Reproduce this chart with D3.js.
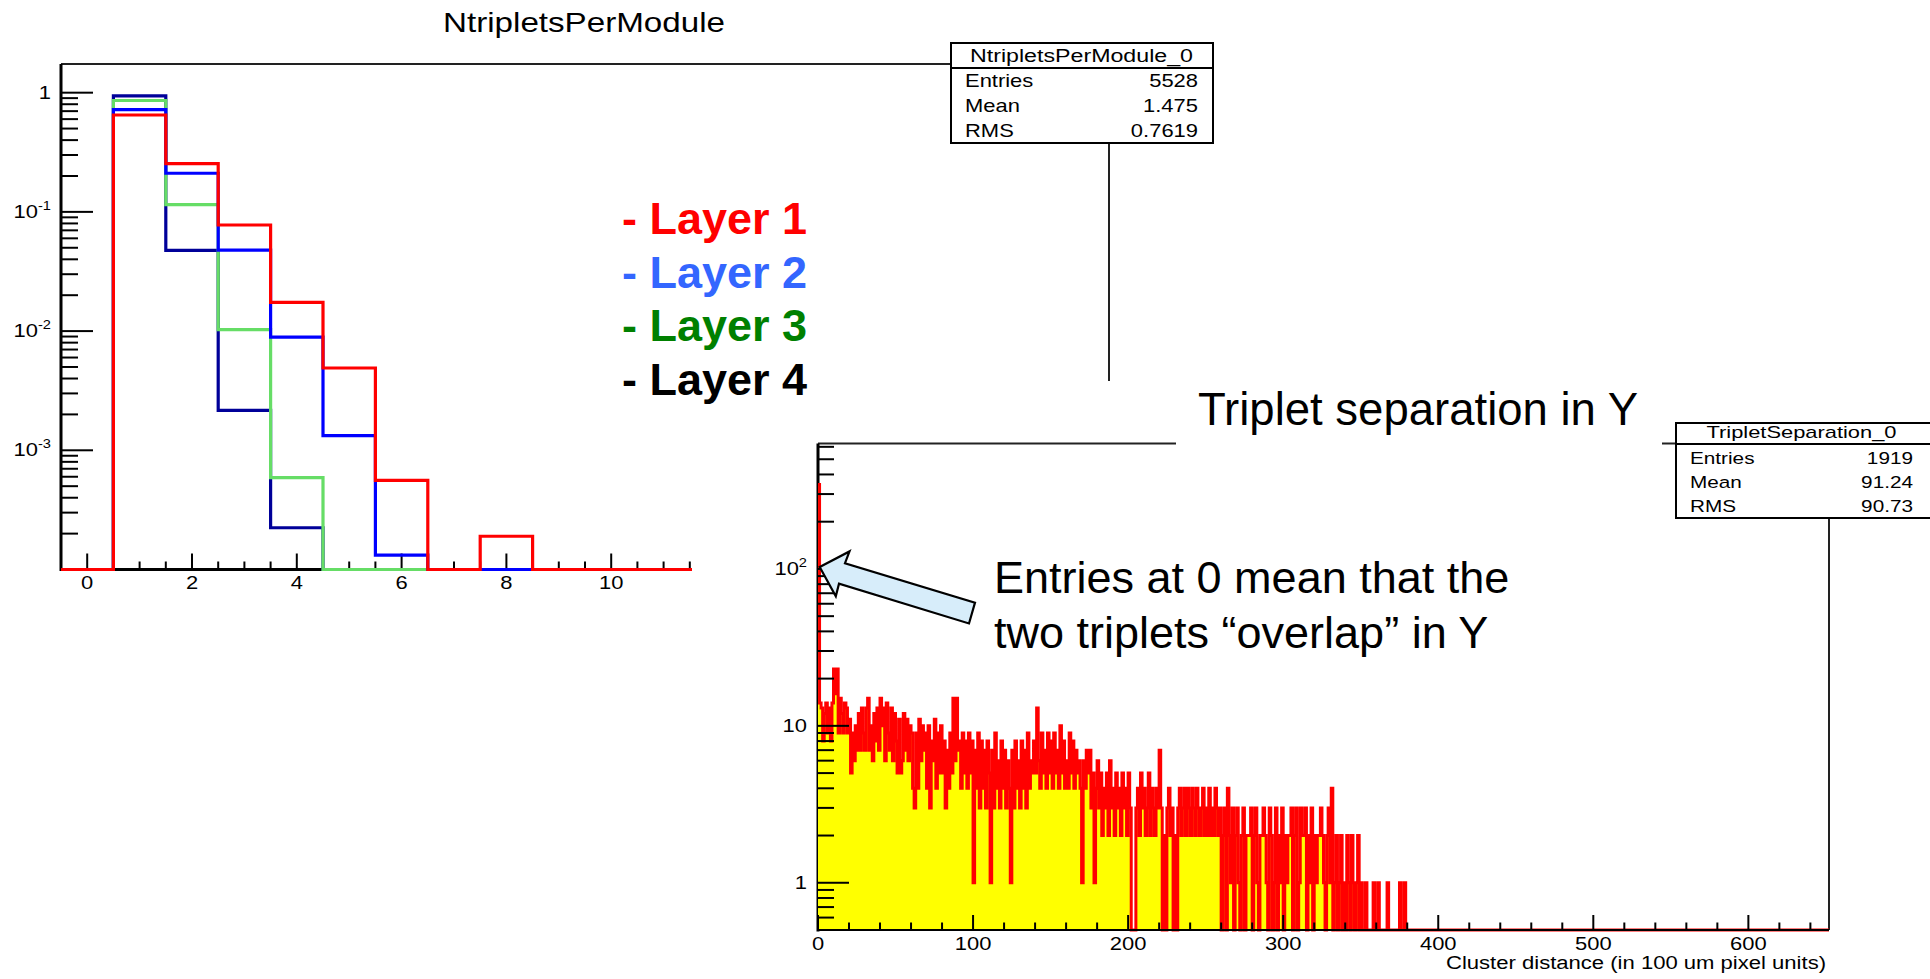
<!DOCTYPE html>
<html>
<head>
<meta charset="utf-8">
<script src="https://cdn.jsdelivr.net/npm/d3@7"></script>
<style>
  body { margin: 0; background: #fff; }
  svg { display: block; }
  text { font-family: "Liberation Sans", Arial, sans-serif; }
</style>
</head>
<body>
<svg id="chart" width="1930" height="979"></svg>
<script>
// ---------- data: NtripletsPerModule (normalised, one bin per integer 0..19)
var layerNames = ["Layer 1", "Layer 2", "Layer 3", "Layer 4"];
var layer1 = [0, 0.65, 0.254, 0.0776, 0.0174, 0.0049, 0.00056, 0, 0.00019, 0, 0, 0, 0, 0, 0, 0, 0, 0, 0, 0];
var layer2 = [0, 0.72, 0.211, 0.0478, 0.0089, 0.00133, 0.000132, 0, 0, 0, 0, 0, 0, 0, 0, 0, 0, 0, 0, 0];
var layer3 = [0, 0.86, 0.115, 0.0103, 0.00059, 0, 0, 0, 0, 0, 0, 0, 0, 0, 0, 0, 0, 0, 0, 0];
var layer4 = [0, 0.94, 0.0475, 0.00216, 0.000224, 0, 0, 0, 0, 0, 0, 0, 0, 0, 0, 0, 0, 0, 0, 0];
var ntXTicks = [0, 2, 4, 6, 8, 10, 12, 14, 16, 18];
var ntYTicks = [1, 0.1, 0.01, 0.001];
var ntYBase = ["1", "10", "10", "10"];
var ntYSup = ["", "-1", "-2", "-3"];
var ntStatLabels = ["Entries", "Mean", "RMS"];
var ntStatValues = ["5528", "1.475", "0.7619"];

// ---------- data: TripletSeparation (counts per unit bin, 0..379; empty beyond)
var sepCounts = [
  345, 14, 13, 8, 12, 14, 9, 13, 8, 14,   23, 16, 23, 9, 15, 12, 9, 14, 13, 9,
  11, 5, 9, 6, 10, 7, 12, 7, 13, 9,       7, 13, 15, 7, 10, 6, 12, 8, 13, 7,
  15, 10, 13, 6, 14, 9, 7, 13, 6, 12,     8, 5, 11, 5, 6, 12, 7, 11, 6, 10,
  9, 4, 3, 9, 4, 11, 6, 10, 7, 9,         4, 10, 3, 8, 6, 11, 4, 9, 5, 10,
  5, 8, 3, 7, 4, 9, 5, 15, 6, 15,         7, 8, 4, 9, 5, 8, 4, 9, 5, 8,
  1, 7, 4, 9, 3, 8, 4, 7, 3, 8,           5, 1, 7, 3, 9, 4, 6, 3, 8, 4,
  7, 3, 6, 4, 1, 7, 3, 8, 4, 6,           3, 8, 4, 7, 3, 9, 4, 6, 5, 8,
  5, 13, 6, 4, 9, 5, 7, 4, 9, 5,          8, 4, 9, 5, 7, 4, 10, 5, 8, 4,
  6, 4, 9, 5, 8, 4, 7, 5, 6, 4,           1, 6, 4, 7, 5, 7, 3, 5, 1, 4,
  6, 3, 5, 2, 4, 3, 5, 2, 6, 3,           4, 2, 5, 3, 4, 2, 5, 3, 4, 2,
  5, 3, 0, 0, 0, 3, 4, 2, 5, 3,           4, 2, 3, 5, 2, 4, 3, 2, 4, 3,
  7, 3, 0, 2, 0, 3, 4, 2, 3, 0,           2, 0, 3, 4, 2, 3, 4, 2, 4, 3,
  2, 4, 3, 2, 4, 3, 2, 3, 4, 2,           3, 2, 4, 2, 3, 2, 4, 3, 2, 3,
  0, 2, 3, 0, 4, 2, 1, 3, 0, 2,           3, 1, 0, 2, 3, 0, 2, 2, 2, 3,
  0, 2, 3, 1, 0, 2, 2, 3, 2, 1,           0, 3, 2, 0, 1, 3, 0, 2, 1, 3,
  0, 2, 1, 2, 2, 3, 0, 2, 3, 0,           1, 3, 2, 2, 3, 0, 2, 1, 3, 0,
  2, 1, 2, 2, 3, 2, 1, 0, 2, 3,           1, 4, 0, 1, 2, 0, 1, 2, 0, 1,
  0, 2, 1, 0, 2, 1, 0, 1, 2, 0,           1, 0, 0, 1, 0, 0, 0, 0, 1, 0,
  0, 1, 0, 0, 0, 0, 0, 1, 0, 0,           0, 0, 0, 0, 0, 1, 0, 0, 1, 0
];
var sepXTicks = [0, 100, 200, 300, 400, 500, 600];
var sepYTicks = [1, 10, 100];
var sepYBase = ["1", "10", "10"];
var sepYSup = ["", "", "2"];
var sepStatLabels = ["Entries", "Mean", "RMS"];
var sepStatValues = ["1919", "91.24", "90.73"];

var layerColors = ["#ff0000", "#0000ff", "#66dd66", "#000099"];
var legendColors = ["#ff0000", "#3366ff", "#008000", "#000000"];
var SX = 1.22; // ROOT pictures were stretched sideways on the slide

var svg = d3.select("#chart");

function clampY(scale, v) {
  var lo = scale.domain()[0];
  return scale(v > lo ? v : lo);
}

function rootText(g, x, y, str, size, anchor) {
  return g.append("text")
    .attr("transform", "translate(" + x + "," + y + ") scale(" + SX + ",1)")
    .attr("text-anchor", anchor || "start")
    .attr("font-size", size)
    .attr("fill", "#000")
    .text(str);
}

function isDecade(v) {
  var l = Math.log10(v);
  return Math.abs(l - Math.round(l)) < 1e-9;
}

function statsBox(g, x, y, w, h, headH, title, titleLen, labels, values, size, rows, labX, valX) {
  g.append("rect").attr("x", x).attr("y", y).attr("width", w).attr("height", h)
    .attr("fill", "#fff").attr("stroke", "#000").attr("stroke-width", 2);
  g.append("line").attr("x1", x).attr("x2", x + w).attr("y1", y + headH).attr("y2", y + headH)
    .attr("stroke", "#000").attr("stroke-width", 2);
  g.append("text").attr("x", (labX + valX) / 2).attr("y", y + headH - 6)
    .attr("text-anchor", "middle").attr("font-size", size)
    .attr("textLength", titleLen).attr("lengthAdjust", "spacingAndGlyphs")
    .text(title);
  labels.forEach(function(l, i) {
    rootText(g, labX, rows[i], l, size, "start");
    rootText(g, valX, rows[i], values[i], size, "end");
  });
}

// ================= left chart: NtripletsPerModule =================
var left = svg.append("g");
var ntX = d3.scaleLinear().domain([-0.5, 19.5]).range([61, 1109]);
var ntY = d3.scaleLog().domain([1e-4, 1.74]).range([569.5, 64]);
var ntL = ntX.range()[0], ntR = ntX.range()[1], ntB = ntY.range()[0], ntT = ntY.range()[1];

left.append("line").attr("x1", ntL).attr("x2", ntR).attr("y1", ntT).attr("y2", ntT)
  .attr("stroke", "#222").attr("stroke-width", 2);
left.append("line").attr("x1", ntR).attr("x2", ntR).attr("y1", ntT).attr("y2", ntB)
  .attr("stroke", "#222").attr("stroke-width", 2);
left.append("line").attr("x1", ntL).attr("x2", ntL).attr("y1", ntT).attr("y2", ntB + 1.5)
  .attr("stroke", "#000").attr("stroke-width", 3);
left.append("line").attr("x1", ntL).attr("x2", ntR).attr("y1", ntB).attr("y2", ntB)
  .attr("stroke", "#000").attr("stroke-width", 3);

// x ticks (inward)
var ntXMinor = d3.range(0, 19.5, 0.5).filter(function(d) { return ntXTicks.indexOf(d) < 0; });
left.selectAll(".xminor").data(ntXMinor).enter().append("line")
  .attr("x1", function(d) { return ntX(d); }).attr("x2", function(d) { return ntX(d); })
  .attr("y1", ntB).attr("y2", ntB - 8)
  .attr("stroke", "#000").attr("stroke-width", 2);
left.selectAll(".xmajor").data(ntXTicks).enter().append("line")
  .attr("x1", function(d) { return ntX(d); }).attr("x2", function(d) { return ntX(d); })
  .attr("y1", ntB).attr("y2", ntB - 16)
  .attr("stroke", "#000").attr("stroke-width", 2);
ntXTicks.forEach(function(d) { rootText(left, ntX(d), ntB + 19, String(d), 18, "middle"); });

// y ticks (log)
left.selectAll(".ytick").data(ntY.ticks()).enter().append("line")
  .attr("x1", ntL).attr("x2", function(d) { return ntL + (isDecade(d) ? 32 : 17); })
  .attr("y1", function(d) { return ntY(d); }).attr("y2", function(d) { return ntY(d); })
  .attr("stroke", "#000").attr("stroke-width", 2);
ntYTicks.forEach(function(d, i) {
  var t = left.append("text")
    .attr("transform", "translate(" + (ntL - 10) + "," + (ntY(d) + 6) + ") scale(" + SX + ",1)")
    .attr("text-anchor", "end").attr("font-size", 18);
  t.append("tspan").text(ntYBase[i]);
  if (ntYSup[i]) t.append("tspan").attr("dy", -8).attr("font-size", 12).text(ntYSup[i]);
});

// histograms, drawn Layer 4 first, Layer 1 on top
function ntPoints(vals) {
  var pts = [];
  vals.forEach(function(v, i) { pts.push([i - 0.5, v]); pts.push([i + 0.5, v]); });
  return pts;
}
var ntLine = d3.line()
  .x(function(d) { return ntX(d[0]); })
  .y(function(d) { return clampY(ntY, d[1]); });
[layer4, layer3, layer2, layer1].forEach(function(vals, k) {
  left.append("path")
    .attr("d", ntLine(ntPoints(vals)))
    .attr("fill", "none")
    .attr("stroke", layerColors[3 - k])
    .attr("stroke-width", 3.2)
    .attr("stroke-linejoin", "miter");
});

left.append("text").attr("x", 443).attr("y", 32).attr("font-size", 28)
  .attr("textLength", 282).attr("lengthAdjust", "spacingAndGlyphs")
  .text("NtripletsPerModule");

statsBox(left, 951, 43, 262, 100, 25, "NtripletsPerModule_0", 223,
  ntStatLabels, ntStatValues, 18, [87, 112, 137], 965, 1198);

// the second picture is pasted on top with a white background
svg.append("rect").attr("x", 692).attr("y", 381).attr("width", 1930 - 692).attr("height", 979 - 381)
  .attr("fill", "#fff");

// ================= right chart: TripletSeparation =================
var right = svg.append("g");
var sepX = d3.scaleLinear().domain([0, 652]).range([818, 1829]);
var sepY = d3.scaleLog().domain([0.5, 630]).range([930, 443.5]);
var sL = sepX.range()[0], sR = sepX.range()[1], sB = sepY.range()[0], sT = sepY.range()[1];

right.append("line").attr("x1", sL).attr("x2", sR).attr("y1", sT).attr("y2", sT)
  .attr("stroke", "#222").attr("stroke-width", 2);
right.append("line").attr("x1", sR).attr("x2", sR).attr("y1", sT).attr("y2", sB)
  .attr("stroke", "#222").attr("stroke-width", 2);
right.append("line").attr("x1", sL).attr("x2", sL).attr("y1", sT).attr("y2", sB + 1.5)
  .attr("stroke", "#000").attr("stroke-width", 3);

var sepPts = [];
sepCounts.forEach(function(c, i) { sepPts.push([i, c]); sepPts.push([i + 1, c]); });
sepPts.push([sepCounts.length, 0]);
sepPts.push([sepX.domain()[1], 0]);

right.append("path")
  .attr("d", d3.area()
    .x(function(d) { return sepX(d[0]); })
    .y0(sB)
    .y1(function(d) { return clampY(sepY, d[1]); })(sepPts))
  .attr("fill", "#ffff00");
right.append("path")
  .attr("d", d3.line()
    .x(function(d) { return sepX(d[0]); })
    .y(function(d) { return clampY(sepY, d[1]); })(sepPts))
  .attr("fill", "none").attr("stroke", "#ff0000").attr("stroke-width", 3);

right.append("line").attr("x1", sL).attr("x2", sR).attr("y1", sB).attr("y2", sB)
  .attr("stroke", "#000").attr("stroke-width", 2.2);

var sepXMinor = d3.range(20, 652, 20).filter(function(d) { return d % 100 !== 0; });
right.selectAll(".sxminor").data(sepXMinor).enter().append("line")
  .attr("x1", function(d) { return sepX(d); }).attr("x2", function(d) { return sepX(d); })
  .attr("y1", sB).attr("y2", sB - 7.5)
  .attr("stroke", "#000").attr("stroke-width", 2);
right.selectAll(".sxmajor").data(sepXTicks).enter().append("line")
  .attr("x1", function(d) { return sepX(d); }).attr("x2", function(d) { return sepX(d); })
  .attr("y1", sB).attr("y2", sB - 15)
  .attr("stroke", "#000").attr("stroke-width", 2);
sepXTicks.forEach(function(d) { rootText(right, sepX(d), sB + 20, String(d), 18, "middle"); });

right.selectAll(".sytick").data(sepY.ticks()).enter().append("line")
  .attr("x1", sL).attr("x2", function(d) { return sL + (isDecade(d) ? 31 : 16); })
  .attr("y1", function(d) { return sepY(d); }).attr("y2", function(d) { return sepY(d); })
  .attr("stroke", "#000").attr("stroke-width", 2);
sepYTicks.forEach(function(d, i) {
  var t = right.append("text")
    .attr("transform", "translate(" + (sL - 11) + "," + (sepY(d) + 6) + ") scale(" + SX + ",1)")
    .attr("text-anchor", "end").attr("font-size", 18);
  t.append("tspan").text(sepYBase[i]);
  if (sepYSup[i]) t.append("tspan").attr("dy", -8).attr("font-size", 12).text(sepYSup[i]);
});

right.append("text").attr("x", sR - 3).attr("y", 969).attr("text-anchor", "end")
  .attr("font-size", 18).attr("textLength", 380).attr("lengthAdjust", "spacingAndGlyphs")
  .text("Cluster distance (in 100 um pixel units)");

statsBox(right, 1676, 423, 262, 95, 21, "TripletSeparation_0", 190,
  sepStatLabels, sepStatValues, 17, [464, 488, 512], 1690, 1913);

// ================= slide annotations =================
var notes = svg.append("g");
layerNames.forEach(function(name, i) {
  notes.append("text")
    .attr("x", 622).attr("y", 234 + i * 53.7)
    .attr("font-size", 45).attr("font-weight", "bold")
    .attr("fill", legendColors[i])
    .text("- " + name);
});

notes.append("rect").attr("x", 1176).attr("y", 384).attr("width", 486).attr("height", 70)
  .attr("fill", "#fff");
notes.append("text").attr("x", 1198).attr("y", 425).attr("font-size", 45.5)
  .text("Triplet separation in Y");

notes.append("text").attr("x", 994).attr("y", 593).attr("font-size", 45)
  .text("Entries at 0 mean that the");
notes.append("text").attr("x", 994).attr("y", 648).attr("font-size", 45)
  .text("two triplets \u201coverlap\u201d in Y");

// block arrow pointing at the zero bin
var tipX = sepX(0) + 1.7, tipY = sepY(100) - 2;
var arrow = [[0, 0], [29.8, -15.5], [25.3, -3.7], [155.3, 35.7], [149.3, 56.5], [19.3, 16.7], [16.1, 29.3]];
notes.append("path")
  .attr("d", d3.line()(arrow.map(function(p) { return [tipX + p[0], tipY + p[1]]; })) + "Z")
  .attr("fill", "#d7edfa").attr("stroke", "#000").attr("stroke-width", 2.2)
  .attr("stroke-linejoin", "miter");
</script>
</body>
</html>
